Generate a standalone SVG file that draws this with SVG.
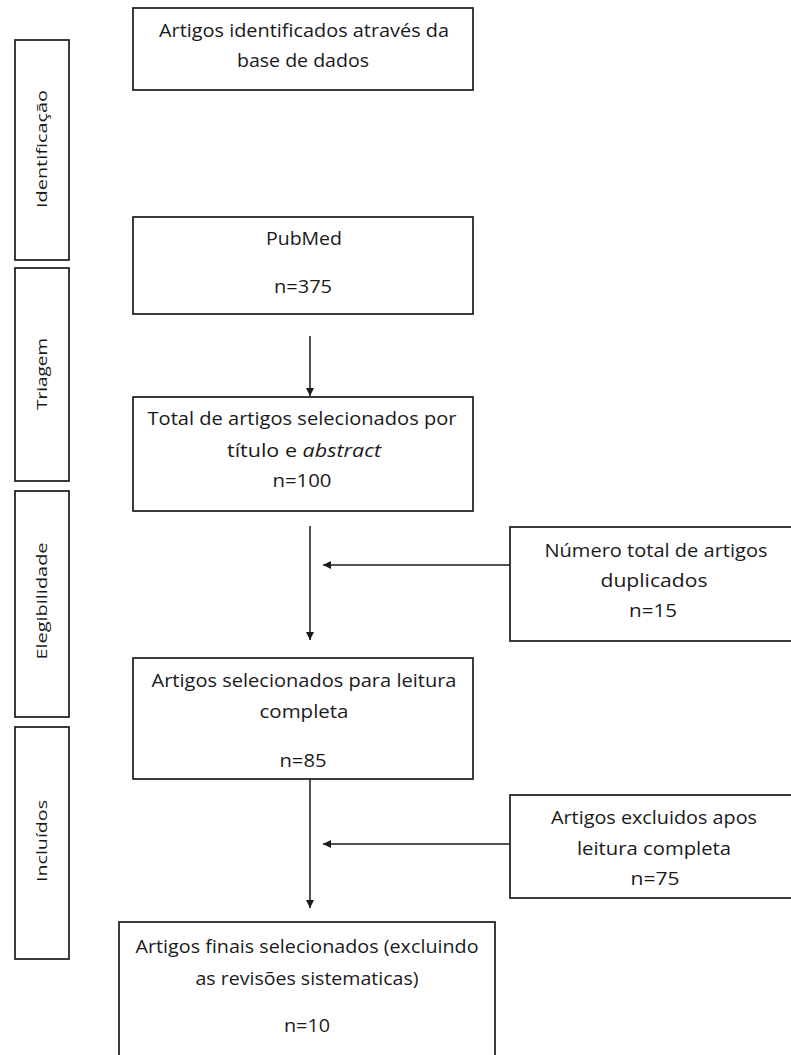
<svg xmlns="http://www.w3.org/2000/svg" width="791" height="1055" viewBox="0 0 791 1055">
<style>
.box{fill:#fff;stroke:#1a1a1a;stroke-width:1.7}
.t{font-family:"Open Sans","DejaVu Sans",sans-serif;font-size:17.5px;fill:#1a1a1a;text-anchor:middle}
.s{font-family:"Open Sans","DejaVu Sans",sans-serif;font-size:15px;fill:#1a1a1a;text-anchor:middle}
.c{stroke:#1a1a1a;stroke-width:1.5;fill:none;marker-end:url(#ah)}
</style>
<defs>
<marker id="ah" viewBox="0 0 10 10" refX="10" refY="5" markerWidth="8" markerHeight="8" markerUnits="userSpaceOnUse" orient="auto">
<path d="M0,0 L10,5 L0,10 z" fill="#1a1a1a"/>
</marker>
</defs>
<rect width="791" height="1055" fill="#fff"/>
<g id="side-identificacao"><rect class="box" x="15" y="40" width="54" height="220"/><text class="s" transform="translate(47,149) rotate(-90)" textLength="118" lengthAdjust="spacingAndGlyphs">Identificação</text></g>
<g id="side-triagem"><rect class="box" x="15" y="268" width="54" height="213"/><text class="s" transform="translate(47,374) rotate(-90)" textLength="72" lengthAdjust="spacingAndGlyphs">Triagem</text></g>
<g id="side-elegibilidade"><rect class="box" x="15" y="491" width="54" height="226"/><text class="s" transform="translate(47,601) rotate(-90)" textLength="117" lengthAdjust="spacingAndGlyphs">Elegibilidade</text></g>
<g id="side-incluidos"><rect class="box" x="15" y="727" width="54" height="232"/><text class="s" transform="translate(47,841) rotate(-90)" textLength="82" lengthAdjust="spacingAndGlyphs">Incluídos</text></g>
<g id="n-identificados"><rect class="box" x="133" y="8" width="340" height="82"/>
<text class="t" x="304" y="37" textLength="290" lengthAdjust="spacingAndGlyphs">Artigos identificados através da</text>
<text class="t" x="303" y="67" textLength="132" lengthAdjust="spacingAndGlyphs">base de dados</text></g>
<g id="n-pubmed"><rect class="box" x="133" y="217" width="340" height="97"/>
<text class="t" x="304" y="245" textLength="76" lengthAdjust="spacingAndGlyphs">PubMed</text>
<text class="t" x="303" y="293" textLength="58" lengthAdjust="spacingAndGlyphs">n=375</text></g>
<g id="n-total"><rect class="box" x="133" y="397" width="340" height="114"/>
<text class="t" x="302" y="425" textLength="309" lengthAdjust="spacingAndGlyphs">Total de artigos selecionados por</text>
<text class="t" x="304" y="457" textLength="154" lengthAdjust="spacingAndGlyphs">título e <tspan font-style="italic">abstract</tspan></text>
<text class="t" x="302" y="487" textLength="59" lengthAdjust="spacingAndGlyphs">n=100</text></g>
<g id="n-duplicados"><rect class="box" x="510" y="527" width="290" height="114"/>
<text class="t" x="656" y="557" textLength="223" lengthAdjust="spacingAndGlyphs">Número total de artigos</text>
<text class="t" x="654" y="587" textLength="107" lengthAdjust="spacingAndGlyphs">duplicados</text>
<text class="t" x="653" y="617" textLength="48" lengthAdjust="spacingAndGlyphs">n=15</text></g>
<g id="n-leitura"><rect class="box" x="133" y="658" width="340" height="121"/>
<text class="t" x="304" y="687" textLength="305" lengthAdjust="spacingAndGlyphs">Artigos selecionados para leitura</text>
<text class="t" x="304" y="718" textLength="89" lengthAdjust="spacingAndGlyphs">completa</text>
<text class="t" x="303" y="767" textLength="47" lengthAdjust="spacingAndGlyphs">n=85</text></g>
<g id="n-excluidos"><rect class="box" x="510" y="795" width="290" height="103"/>
<text class="t" x="654" y="824" textLength="206" lengthAdjust="spacingAndGlyphs">Artigos excluidos apos</text>
<text class="t" x="654" y="855" textLength="154" lengthAdjust="spacingAndGlyphs">leitura completa</text>
<text class="t" x="655" y="885" textLength="49" lengthAdjust="spacingAndGlyphs">n=75</text></g>
<g id="n-finais"><rect class="box" x="119" y="922" width="376" height="140"/>
<text class="t" x="307" y="953" textLength="343" lengthAdjust="spacingAndGlyphs">Artigos finais selecionados (excluindo</text>
<text class="t" x="307" y="985" textLength="223" lengthAdjust="spacingAndGlyphs">as revisões sistematicas)</text>
<text class="t" x="307" y="1032" textLength="46" lengthAdjust="spacingAndGlyphs">n=10</text></g>
<g id="connectors">
<line class="c" x1="310" y1="336" x2="310" y2="396"/>
<line class="c" x1="310" y1="526" x2="310" y2="640"/>
<line class="c" x1="510" y1="565" x2="323" y2="565"/>
<line class="c" x1="310" y1="779" x2="310" y2="908"/>
<line class="c" x1="510" y1="844" x2="323" y2="844"/>
</g>
</svg>
